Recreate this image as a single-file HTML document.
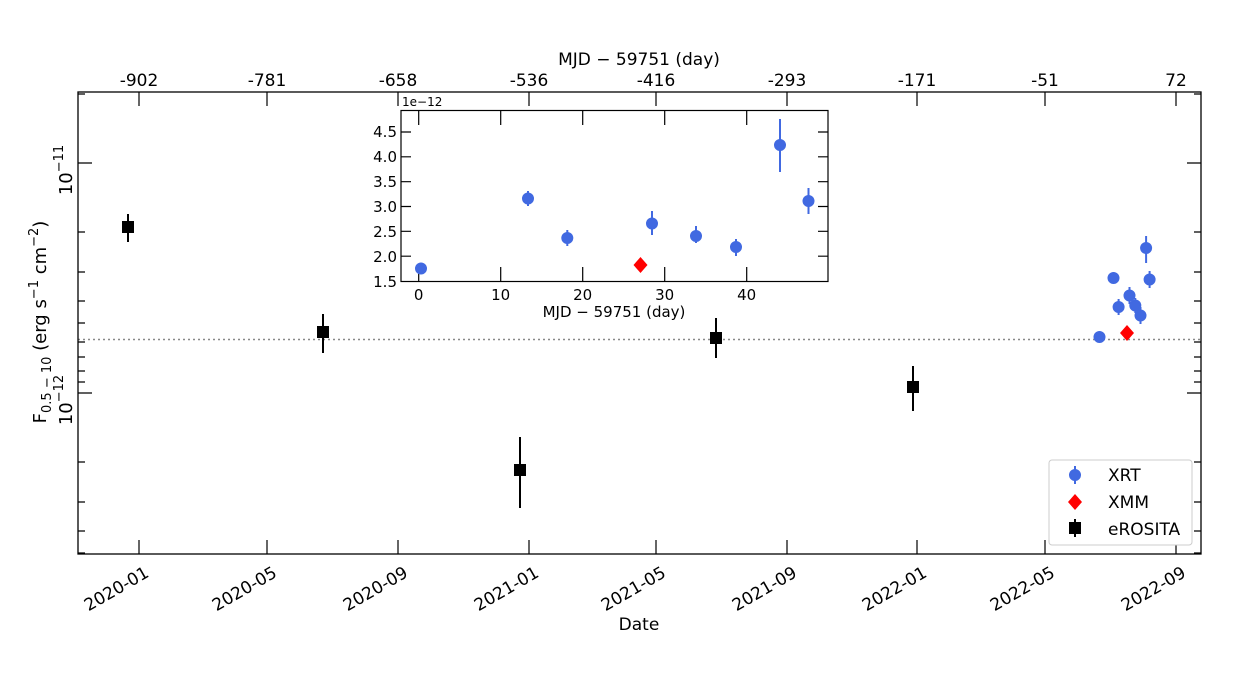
<!DOCTYPE html>
<html><head><meta charset="utf-8"><style>body{margin:0;background:#fff}svg{display:block}text{font-family:"DejaVu Sans","Liberation Sans",sans-serif;fill:#000}</style></head><body>
<svg width="1251" height="685" viewBox="0 0 1251 685" xmlns="http://www.w3.org/2000/svg">
<rect width="1251" height="685" fill="#fff"/>
<line x1="78" y1="339.5" x2="1201" y2="339.5" stroke="#888" stroke-width="1.5" stroke-dasharray="2,3"/>
<rect x="78" y="92" width="1123" height="462" fill="none" stroke="#000" stroke-width="1.3"/>
<g stroke="#000" stroke-width="1.2">
<path d="M139 554v-14M267 554v-14M398 554v-14M529 554v-14M656 554v-14M787 554v-14M917 554v-14M1045 554v-14M1176 554v-14"/>
<path d="M139 92v14M267 92v14M398 92v14M529 92v14M656 92v14M787 92v14M917 92v14M1045 92v14M1176 92v14"/>
<path d="M78 163h14M78 393h14M1201 163h-14M1201 393h-14"/>
<path d="M78 94h7M78 232h7M78 272h7M78 301h7M78 323h7M78 342h7M78 357h7M78 371h7M78 382h7M78 462h7M78 502h7M78 531h7M78 553h7
M1201 94h-7M1201 232h-7M1201 272h-7M1201 301h-7M1201 323h-7M1201 342h-7M1201 357h-7M1201 371h-7M1201 382h-7M1201 462h-7M1201 502h-7M1201 531h-7M1201 553h-7"/>
</g>
<text transform="translate(72,170) rotate(-90)" font-size="18" text-anchor="middle">10<tspan dy="-9" font-size="13">−11</tspan></text>
<text transform="translate(72,400) rotate(-90)" font-size="18" text-anchor="middle">10<tspan dy="-9" font-size="13">−12</tspan></text>
<text transform="translate(46,322) rotate(-90)" font-size="18" text-anchor="middle">F<tspan dy="5" font-size="13">0.5 − 10</tspan><tspan dy="-5"> (erg s</tspan><tspan dy="-8" font-size="13">−1</tspan><tspan dy="8"> cm</tspan><tspan dy="-8" font-size="13">−2</tspan><tspan dy="8">)</tspan></text>
<g font-size="17" text-anchor="middle">
<text x="139" y="86">-902</text><text x="267" y="86">-781</text><text x="398" y="86">-658</text><text x="529" y="86">-536</text><text x="656" y="86">-416</text><text x="787" y="86">-293</text><text x="917" y="86">-171</text><text x="1045" y="86">-51</text><text x="1176" y="86">72</text>
<text x="639" y="65">MJD − 59751 (day)</text>
<text x="639" y="630">Date</text>
</g>
<g font-size="17" text-anchor="end">
<text transform="translate(150,576) rotate(-30)">2020-01</text>
<text transform="translate(278,576) rotate(-30)">2020-05</text>
<text transform="translate(409,576) rotate(-30)">2020-09</text>
<text transform="translate(540,576) rotate(-30)">2021-01</text>
<text transform="translate(667,576) rotate(-30)">2021-05</text>
<text transform="translate(798,576) rotate(-30)">2021-09</text>
<text transform="translate(928,576) rotate(-30)">2022-01</text>
<text transform="translate(1056,576) rotate(-30)">2022-05</text>
<text transform="translate(1187,576) rotate(-30)">2022-09</text>
</g>
<g stroke="#000" stroke-width="2" fill="#000">
<line x1="128" y1="214" x2="128" y2="242"/><rect x="123" y="222" width="10" height="10"/>
<line x1="323" y1="314" x2="323" y2="353"/><rect x="318" y="327" width="10" height="10"/>
<line x1="520" y1="437" x2="520" y2="508"/><rect x="515" y="465" width="10" height="10"/>
<line x1="716" y1="318" x2="716" y2="358"/><rect x="711" y="333" width="10" height="10"/>
<line x1="913" y1="366" x2="913" y2="411"/><rect x="908" y="382" width="10" height="10"/>
</g>
<g fill="#4169e1" stroke="#4169e1" stroke-width="2">
<circle cx="1099.5" cy="337" r="5"/>
<circle cx="1113.5" cy="278" r="5"/>
<line x1="1118.6" y1="299" x2="1118.6" y2="315"/><circle cx="1118.6" cy="307" r="5"/>
<line x1="1129.5" y1="287" x2="1129.5" y2="304"/><circle cx="1129.5" cy="295.5" r="5"/>
<line x1="1135.3" y1="298" x2="1135.3" y2="313"/><circle cx="1135.3" cy="305.5" r="5"/>
<line x1="1140.5" y1="307" x2="1140.5" y2="324"/><circle cx="1140.5" cy="315.5" r="5"/>
<line x1="1146.1" y1="236" x2="1146.1" y2="263"/><circle cx="1146.1" cy="248" r="5"/>
<line x1="1149.6" y1="271" x2="1149.6" y2="288"/><circle cx="1149.6" cy="279.5" r="5"/>
</g>
<path d="M1127 325l7 8-7 8-7-8z" fill="#f00"/>
<rect x="1049" y="460" width="143" height="85" rx="3" fill="#fff" stroke="#ccc"/>
<g fill="#4169e1" stroke="#4169e1" stroke-width="2"><line x1="1075" y1="466" x2="1075" y2="484"/><circle cx="1075" cy="475" r="5"/></g>
<path d="M1075 494l7 8-7 8-7-8z" fill="#f00"/>
<g stroke="#000" stroke-width="2"><line x1="1075" y1="519" x2="1075" y2="537"/><rect x="1070" y="523" width="10" height="10" fill="#000"/></g>
<g font-size="17"><text x="1108" y="481">XRT</text><text x="1108" y="508">XMM</text><text x="1108" y="535">eROSITA</text></g>
<rect x="401" y="110.5" width="427" height="171" fill="#fff" stroke="#000" stroke-width="1.2"/>
<g stroke="#000" stroke-width="1.2">
<path d="M418.7 281v-14M500.7 281v-14M582.7 281v-14M664.7 281v-14M746.7 281v-14M418.7 111v14M500.7 111v14M582.7 111v14M664.7 111v14M746.7 111v14"/>
<path d="M401 256.2h10M401 231.3h10M401 206.5h10M401 181.7h10M401 156.8h10M401 132h10M828 256.2h-10M828 231.3h-10M828 206.5h-10M828 181.7h-10M828 156.8h-10M828 132h-10"/>
</g>
<g font-size="15" text-anchor="end">
<text x="397" y="287">1.5</text><text x="397" y="262">2.0</text><text x="397" y="237">2.5</text><text x="397" y="212">3.0</text><text x="397" y="187">3.5</text><text x="397" y="162">4.0</text><text x="397" y="137">4.5</text>
</g>
<g font-size="15" text-anchor="middle">
<text x="418.7" y="300">0</text><text x="500.7" y="300">10</text><text x="582.7" y="300">20</text><text x="664.7" y="300">30</text><text x="746.7" y="300">40</text>
<text x="614" y="317">MJD − 59751 (day)</text>
</g>
<text x="402" y="106" font-size="12">1e−12</text>
<g fill="#4169e1" stroke="#4169e1" stroke-width="2">
<circle cx="421" cy="268.5" r="5"/>
<line x1="528" y1="191" x2="528" y2="206"/><circle cx="528" cy="198.5" r="5"/>
<line x1="567.3" y1="230" x2="567.3" y2="246"/><circle cx="567.3" cy="238" r="5"/>
<line x1="652" y1="211" x2="652" y2="235"/><circle cx="652" cy="223.5" r="5"/>
<line x1="696" y1="226" x2="696" y2="243"/><circle cx="696" cy="236" r="5"/>
<line x1="736" y1="239" x2="736" y2="256"/><circle cx="736" cy="247" r="5"/>
<line x1="780" y1="119" x2="780" y2="172"/><circle cx="780" cy="145" r="5"/>
<line x1="808.5" y1="188" x2="808.5" y2="214"/><circle cx="808.5" cy="201" r="5"/>
</g>
<path d="M640.5 257l7 8-7 8-7-8z" fill="#f00"/>
</svg>
</body></html>
